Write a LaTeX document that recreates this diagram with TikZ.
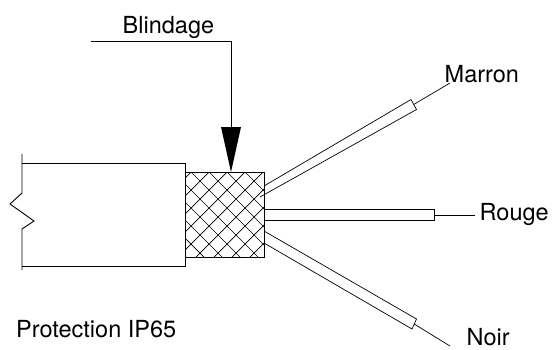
\documentclass[tikz,border=0pt]{standalone}
\usepackage{fontspec}
\setmainfont{TeX Gyre Heros}
\tikzset{
  ln/.style={draw=black,line width=0.9pt},
  thin ln/.style={draw=black,line width=0.7pt},
  lbl/.style={font=\fontsize{23.5}{26}\selectfont,inner sep=0pt,text=black},
}
\begin{document}
\begin{tikzpicture}[x=1pt,y=-1pt]
\useasboundingbox (0,0) rectangle (553,349);
% cable
\draw[ln] (22,154) -- (22,193) -- (10,204) -- (34,221) -- (22,229) -- (22,270);
\draw[ln] (22,163) -- (185,163) -- (185,266) -- (22,266);
% braid
\begin{scope}
\clip (185,172) rectangle (264,257);
\foreach \k in {-100,-82,...,200} {
  \draw[thin ln] (183+\k,172) -- ++(120,120);
  \draw[thin ln] (183+\k,172) -- ++(-120,120);
}
\end{scope}
\draw[ln] (185,172) rectangle (264,257);
% wires
\draw[thin ln] (264,186) -- (411,99.5) -- (416.5,109.5) -- (260,197);
\coordinate (mend) at (450,83);
\draw[thin ln] (413.7,104.5) -- (mend);
\draw[ln] (264,209) -- (434,209) -- (434,220) -- (264,220);
\draw[thin ln] (434,215) -- (475,215);
\draw[thin ln] (264,231) -- (416.5,319) -- (412,329) -- (264,243);
\draw[thin ln] (414.2,324) -- (450,346);
% arrow
\draw[ln] (91,41) -- (231,41) -- (231,127);
\fill[black] (221,127) -- (241,127) -- (231,172) -- cycle;
% labels
\node[lbl,anchor=base west] (a) at (122.5,33) {Blindage};
\node[lbl,anchor=base west] (b) at (444.5,82) {Marron};
\node[lbl,anchor=base west] (c) at (479.5,220) {Rouge};
\node[lbl,anchor=base west] (d) at (466.5,345.5) {Noir};
\node[lbl,anchor=base west] (e) at (16,337) {Protection IP65};
\end{tikzpicture}
\end{document}
